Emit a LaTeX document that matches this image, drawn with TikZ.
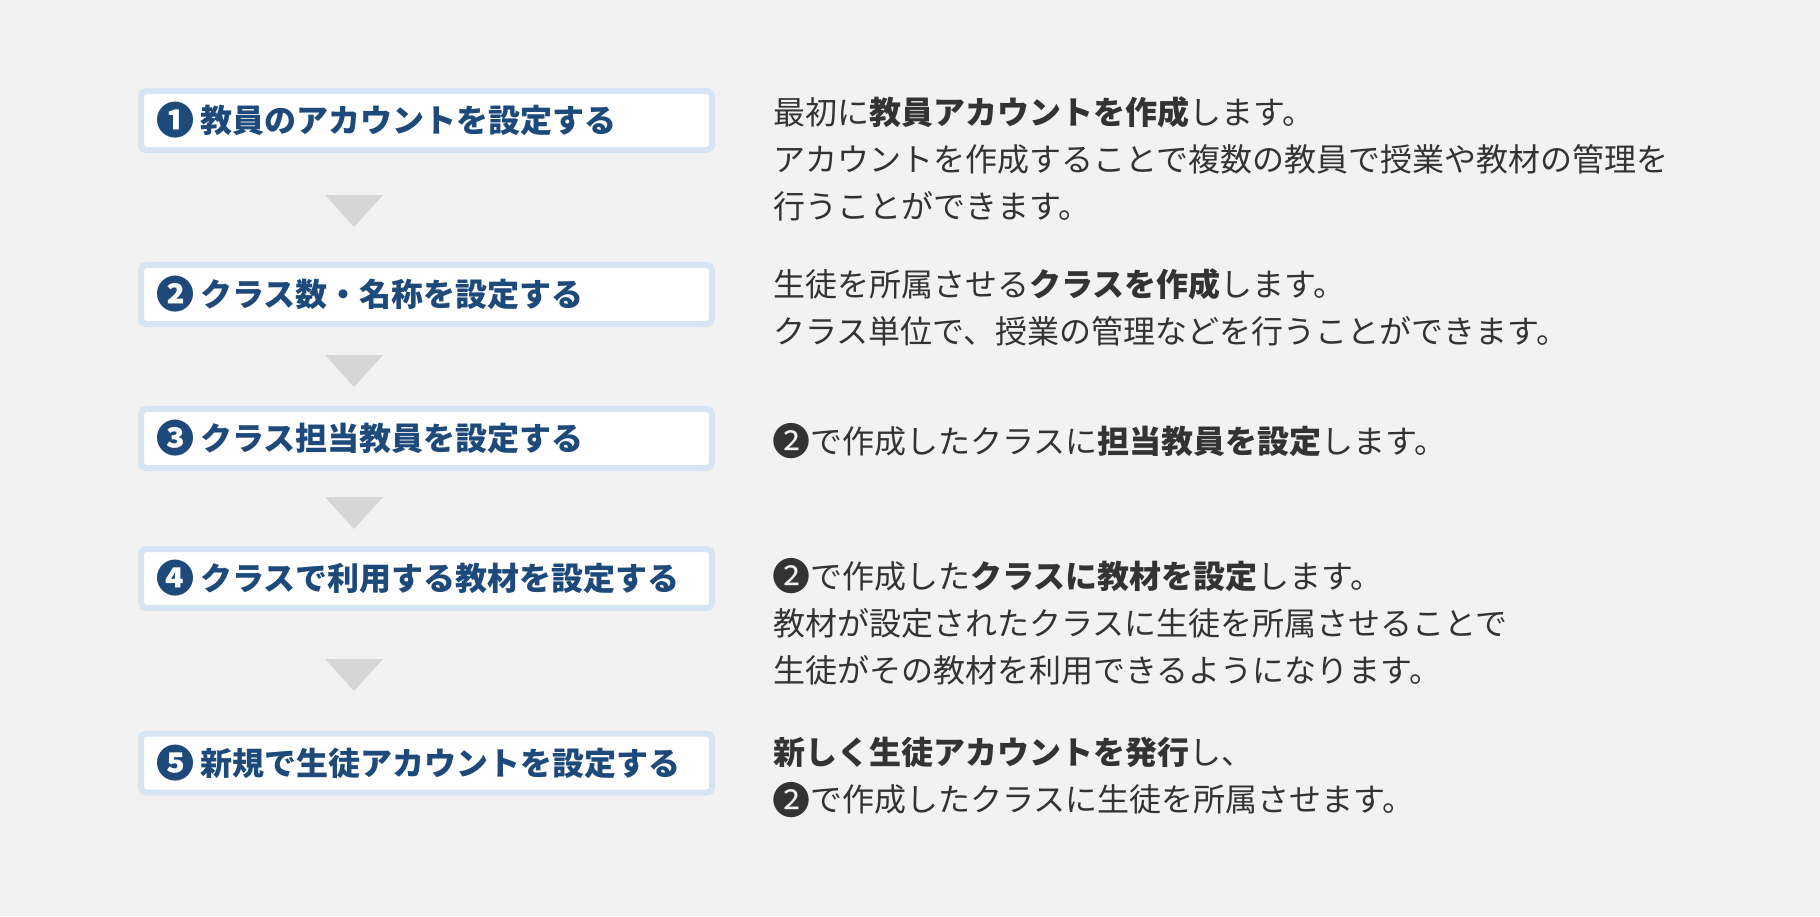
\documentclass[tikz,border=0pt]{standalone}
\usepackage{fontspec}
\setmainfont{Noto Sans CJK JP}

\definecolor{pagebg}{HTML}{F2F2F2}
\definecolor{boxline}{HTML}{D6E4F4}
\definecolor{stepblue}{HTML}{1D4A7A}
\definecolor{bodygray}{HTML}{333333}
\definecolor{trigray}{HTML}{D6D6D6}

% larger circled number
\newcommand\bignum[1]{\raisebox{-2.4pt}{\fontsize{38}{38}\selectfont#1}}

\tikzset{
  stepbox/.style={draw=boxline, line width=6pt, fill=white, rounded corners=5pt,
    minimum width=571pt, minimum height=59pt, text width=540pt, inner xsep=15.5pt,
    align=left, text=stepblue, font=\bfseries\fontsize{32}{38}\selectfont},
  desc/.style={anchor=west, align=left, inner sep=0pt, text=bodygray,
    font=\fontsize{32}{47}\selectfont},
  tri/.style={fill=trigray}
}

\begin{document}
\begin{tikzpicture}[x=1pt,y=-1pt]
	\fill[pagebg] (0,0) rectangle (1820,916);
	\useasboundingbox (0,0) rectangle (1820,916);

	\def\steps {1/120.5/{\bignum{❶}\hspace{6pt}教員のアカウントを設定する},
	2/294.5/{\bignum{❷}\hspace{6pt}クラス数・名称を設定する},
	3/438.5/{\bignum{❸}\hspace{6pt}クラス担当教員を設定する},
	4/578.5/{\bignum{❹}\hspace{6pt}クラスで利用する教材を設定する},
	5/763/{\bignum{❺}\hspace{6pt}新規で生徒アカウントを設定する}}  % step boxes
	\foreach \i/\y/\txt in \steps
	{	\node[stepbox] (s\i) at (426.5,\y) {\txt};
	}

	\foreach \y in {195, 355, 497, 659}  % down arrows
	{	\fill[tri] (325,\y) -- (383,\y) -- (354,\y+32) -- cycle;
	}

	\node[desc] (d1) at (773,159) {最初に\textbf{教員アカウントを作成}します。\\
		アカウントを作成することで複数の教員で授業や教材の管理を\\
		行うことができます。};
	\node[desc] (d2) at (773,307.5) {生徒を所属させる\textbf{クラスを作成}します。\\
		クラス単位で、授業の管理などを行うことができます。};
	\node[desc] (d3) at (773,441) {\hspace*{-1pt}\bignum{❷}で作成したクラスに\textbf{担当教員を設定}します。};
	\node[desc] (d4) at (773,622) {\hspace*{-1pt}\bignum{❷}で作成した\textbf{クラスに教材を設定}します。\\
		教材が設定されたクラスに生徒を所属させることで\\
		生徒がその教材を利用できるようになります。};
	\node[desc] (d5) at (773,777.5) {\textbf{新しく生徒アカウントを発行}し、\\
		\hspace*{-1pt}\bignum{❷}で作成したクラスに生徒を所属させます。};
\end{tikzpicture}
\end{document}
